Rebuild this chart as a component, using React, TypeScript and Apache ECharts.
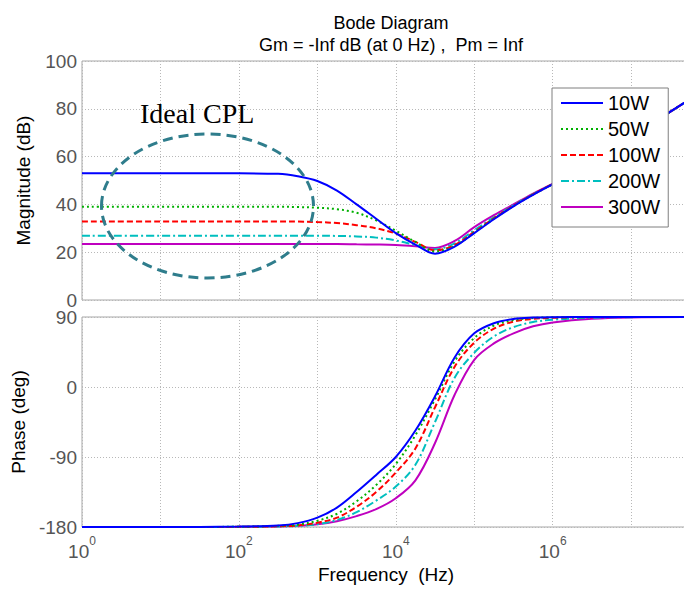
import React, { useEffect, useRef } from 'react';
import * as echarts from 'echarts';

// Frequencies (Hz), roughly log-spaced
const freqHz = [1, 10, 100, 316.2, 562.3, 1000, 1778, 3162, 5623, 10000, 17783, 31623, 56234, 100000, 177828, 316228, 562341, 1000000, 3162278, 10000000, 56234133];

const seriesNames = ['10W', '50W', '100W', '200W', '300W'];

// Magnitude (dB)
const mag10W = [53, 53, 53, 52.8, 51.8, 49.8, 45.8, 40, 34, 28, 23.2, 19.4, 22.3, 28, 33.8, 39.2, 44, 48.5, 58.3, 68.5, 84];
const mag50W = [39, 39, 39, 39, 38.9, 38.6, 38, 36.5, 33.3, 29, 24.3, 20.3, 22.6, 28.2, 34, 39.3, 44.1, 48.5, 58.3, 68.5, 84];
const mag100W = [32.8, 32.8, 32.8, 32.8, 32.8, 32.6, 32.2, 31.3, 30, 27.8, 24.3, 20.8, 23, 28.5, 34.2, 39.4, 44.2, 48.6, 58.3, 68.5, 84];
const mag200W = [26.9, 26.9, 26.9, 26.9, 26.9, 26.9, 26.8, 26.6, 26.1, 24.9, 23, 21.2, 23.7, 29.2, 34.6, 39.6, 44.3, 48.6, 58.3, 68.5, 84];
const mag300W = [23.4, 23.4, 23.4, 23.4, 23.4, 23.4, 23.4, 23.3, 23.2, 23, 22.5, 21.8, 24.7, 30.5, 35.5, 40, 44.5, 48.7, 58.4, 68.5, 84];

// Phase (deg)
const phase10W = [-180, -180, -179.5, -178, -175, -168, -155, -135, -113, -90, -56, -12, 38, 69, 82, 87.5, 89.3, 89.8, 90, 90, 90];
const phase50W = [-180, -180, -179.7, -178.5, -177, -172, -163, -147, -126, -99, -62, -16, 33, 63, 79, 86, 88.7, 89.6, 90, 90, 90];
const phase100W = [-180, -180, -179.8, -179, -178, -174.5, -168, -154, -135, -110, -79, -26, 26, 57, 75, 84, 87.5, 89, 89.8, 90, 90];
const phase200W = [-180, -180, -179.8, -179.2, -178.5, -176.5, -171, -161, -146, -128, -100, -45, 12, 44, 65, 77, 83.5, 86.5, 89, 89.8, 90];
const phase300W = [-180, -180, -179.8, -179.3, -178.5, -176.5, -172.5, -166, -157, -143, -120, -72, -10, 35, 56, 69, 78, 83, 87.8, 89.5, 90];

const magData = [mag10W, mag50W, mag100W, mag200W, mag300W];
const phaseData = [phase10W, phase50W, phase100W, phase200W, phase300W];

const magTicks = [0, 20, 40, 60, 80, 100];
const phaseTicks = [-180, -90, 0, 90];

const colors = ['#0000ff', '#00b000', '#ff0000', '#00bfbf', '#bf00bf'];
const dashes: any[] = ['solid', [2, 3], [6, 3], [8, 3, 2, 3], 'solid'];

const FONT = '"Liberation Sans", Arial, Helvetica, sans-serif';
const LABEL_COLOR = '#555555';

export default function App() {
  const ref = useRef<HTMLDivElement>(null);

  useEffect(() => {
    if (!ref.current) return;
    const chart = echarts.init(ref.current, null, { renderer: 'svg' });

    const series: any[] = [];
    seriesNames.forEach((name, i) => {
      const common = {
        name,
        type: 'line',
        symbol: 'none',
        smooth: 0.35,
        lineStyle: { color: colors[i], width: 2, type: dashes[i] },
        itemStyle: { color: colors[i] },
        z: 10 - i,
      };
      series.push({
        ...common,
        xAxisIndex: 0,
        yAxisIndex: 0,
        data: freqHz.map((f, k) => [f, magData[i][k]]),
      });
      series.push({
        ...common,
        xAxisIndex: 1,
        yAxisIndex: 1,
        data: freqHz.map((f, k) => [f, phaseData[i][k]]),
      });
    });

    const xFormatter = (v: number) => {
      const e = Math.log10(v);
      const r = Math.round(e);
      if (Math.abs(e - r) > 1e-6 || r % 2 !== 0) return '';
      return '{b|10}{s|' + r + '}';
    };

    const xAxisBase = {
      type: 'log',
      logBase: 10,
      min: freqHz[0],
      max: freqHz[freqHz.length - 1],
      splitNumber: 4,
      axisLine: { show: false },
      axisTick: { show: false },
      splitLine: { show: true, lineStyle: { color: '#b8b8b8', type: [1, 2], width: 1 } },
      minorSplitLine: { show: false },
    };

    const gridCommon = {
      left: 82,
      width: 608,
      show: true,
      borderColor: '#a6a6a6',
      borderWidth: 1,
      backgroundColor: 'transparent',
      containLabel: false,
      outerBoundsMode: 'none',
    };

    const option: any = {
      animation: false,
      backgroundColor: '#ffffff',
      title: {
        text: 'Bode Diagram\nGm = -Inf dB (at 0 Hz) ,  Pm = Inf',
        left: 386,
        top: 7,
        textAlign: 'center',
        textStyle: { fontFamily: FONT, fontSize: 18, fontWeight: 'normal', color: '#000', lineHeight: 22 },
      },
      legend: {
        data: seriesNames,
        orient: 'vertical',
        left: 552,
        top: 88,
        padding: [5, 8, 10, 8],
        itemGap: 6,
        itemWidth: 42,
        itemHeight: 14,
        backgroundColor: '#ffffff',
        borderColor: '#7f7f7f',
        borderWidth: 1,
        borderRadius: 0,
        itemStyle: { opacity: 0 },
        textStyle: { fontFamily: FONT, fontSize: 20, color: '#000' },
        z: 20,
      },
      grid: [
        { ...gridCommon, top: 61, height: 239 },
        { ...gridCommon, top: 317, height: 210 },
      ],
      xAxis: [
        { ...xAxisBase, gridIndex: 0, axisLabel: { show: false } },
        {
          ...xAxisBase,
          gridIndex: 1,
          name: 'Frequency  (Hz)',
          nameLocation: 'middle',
          nameGap: 38,
          nameTextStyle: { fontFamily: FONT, fontSize: 19, color: '#000' },
          axisLabel: {
            show: true,
            margin: 8,
            formatter: xFormatter,
            rich: {
              b: { fontFamily: FONT, fontSize: 19, color: LABEL_COLOR, verticalAlign: 'bottom', lineHeight: 26 },
              s: { fontFamily: FONT, fontSize: 12, color: LABEL_COLOR, verticalAlign: 'top', lineHeight: 14 },
            },
          },
        },
      ],
      yAxis: [
        {
          type: 'value',
          gridIndex: 0,
          min: magTicks[0],
          max: magTicks[magTicks.length - 1],
          interval: 20,
          axisLine: { show: false },
          axisTick: { show: false },
          axisLabel: { fontFamily: FONT, fontSize: 19, lineHeight: 14, color: LABEL_COLOR, margin: 5 },
          splitLine: { show: true, lineStyle: { color: '#b8b8b8', type: [1, 2], width: 1 } },
          name: 'Magnitude (dB)',
          nameLocation: 'middle',
          nameGap: 49,
          nameTextStyle: { fontFamily: FONT, fontSize: 19, color: '#000' },
        },
        {
          type: 'value',
          gridIndex: 1,
          min: phaseTicks[0],
          max: phaseTicks[phaseTicks.length - 1],
          interval: 90,
          axisLine: { show: false },
          axisTick: { show: false },
          axisLabel: { fontFamily: FONT, fontSize: 19, lineHeight: 14, color: LABEL_COLOR, margin: 5 },
          splitLine: { show: true, lineStyle: { color: '#b8b8b8', type: [1, 2], width: 1 } },
          name: 'Phase (deg)',
          nameLocation: 'middle',
          nameGap: 52,
          nameTextStyle: { fontFamily: FONT, fontSize: 19, color: '#000' },
        },
      ],
      graphic: [
        {
          type: 'ellipse',
          shape: { cx: 207.5, cy: 206, rx: 106, ry: 72 },
          style: { fill: 'none', stroke: '#2f7d8c', lineWidth: 3, lineDash: [10, 6] },
          z: 30,
        },
        {
          type: 'text',
          x: 140,
          y: 113,
          style: {
            text: 'Ideal CPL',
            fontFamily: '"Liberation Serif", "Times New Roman", serif',
            fontSize: 28,
            fill: '#000',
            verticalAlign: 'middle',
            align: 'left',
          },
          z: 30,
        },
      ],
      series,
    };

    chart.setOption(option);
    return () => chart.dispose();
  }, []);

  return (
    <div
      ref={ref}
      style={{ position: 'absolute', left: 0, top: 0, width: 684, height: 590 }}
    />
  );
}
